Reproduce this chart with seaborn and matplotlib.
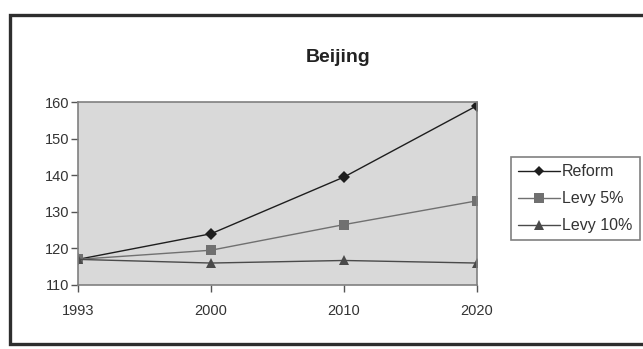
import matplotlib
matplotlib.use("Agg")
import matplotlib.pyplot as plt
from matplotlib.lines import Line2D
import seaborn as sns
import pandas as pd

years = ["1993", "2000", "2010", "2020"]
reform = [117.0, 124.0, 139.5, 159.0]
levy_5 = [117.0, 119.5, 126.5, 133.0]
levy_10 = [117.0, 116.0, 116.7, 116.0]
series_names = ["Reform", "Levy 5%", "Levy 10%"]
y_ticks = [110, 120, 130, 140, 150, 160]

sns.set_theme(style="white")
plt.rcParams["font.family"] = ["Liberation Sans", "DejaVu Sans"]

rows = []
for name, vals in zip(series_names, [reform, levy_5, levy_10]):
    for i, (yr, v) in enumerate(zip(years, vals)):
        rows.append({"pos": i, "year": yr, "value": v, "series": name})
df = pd.DataFrame(rows)

line_colors = {"Reform": "#1e1e1e", "Levy 5%": "#707070", "Levy 10%": "#4a4a4a"}
markers = {"Reform": "D", "Levy 5%": "s", "Levy 10%": "^"}
marker_sizes = {"Reform": 5.5, "Levy 5%": 7, "Levy 10%": 7}

fig = plt.figure(figsize=(6.43, 3.49), dpi=100)
fig.patch.set_facecolor("white")
ax = fig.add_axes([78 / 643, 1 - 285 / 349, (477 - 78) / 643, (285 - 102) / 349])
ax.set_facecolor("#d9d9d9")

sns.lineplot(data=df, x="pos", y="value", hue="series", style="series",
             hue_order=series_names, style_order=series_names,
             palette=line_colors, markers=markers, dashes=False,
             markersize=6.5, linewidth=1.0, markeredgewidth=0, ax=ax, legend=False)

ax.set_xlim(0, 3)
ax.set_ylim(110, 160)
ax.set_xticks(range(len(years)))
ax.set_xticklabels(years)
ax.set_yticks(y_ticks)
ax.set_xlabel("")
ax.set_ylabel("")
for s in ax.spines.values():
    s.set_visible(True)
    s.set_color("#808080")
    s.set_linewidth(1.2)
ax.tick_params(axis="both", direction="out", length=5, width=1, color="#555555",
               labelsize=10.5, labelcolor="#333333", bottom=True, left=True)
ax.tick_params(axis="x", pad=9)
ax.tick_params(axis="y", pad=1)
for lbl in ax.get_xticklabels():
    lbl.set_clip_on(False)

fig.text(338 / 643, 1 - 57 / 349, "Beijing", ha="center", va="center",
         fontsize=14, fontweight="bold", color="#222222")

handles = [Line2D([0], [0], color=line_colors[n], marker=markers[n],
                  markersize=marker_sizes[n], markeredgewidth=0, linewidth=1.0)
           for n in series_names]
leg = fig.legend(handles, series_names, loc="upper left",
                 bbox_to_anchor=(511 / 643, 1 - 157 / 349),
                 bbox_transform=fig.transFigure, frameon=True, fancybox=False,
                 framealpha=1, edgecolor="#808080", fontsize=11.5,
                 handlelength=2.6, handletextpad=0.15, labelspacing=0.75,
                 borderpad=0.45, borderaxespad=0)
leg.get_frame().set_linewidth(1.2)
for t in leg.get_texts():
    t.set_color("#333333")

# outer chart frame, open on the right side
frame = Line2D([1.01, 10 / 643, 10 / 643, 1.01],
               [1 - 15 / 349, 1 - 15 / 349, 1 - 344 / 349, 1 - 344 / 349],
               transform=fig.transFigure, color="#2e2e2e", linewidth=2.4,
               solid_joinstyle="miter")
fig.add_artist(frame)

fig.savefig("out.png", dpi=100)
